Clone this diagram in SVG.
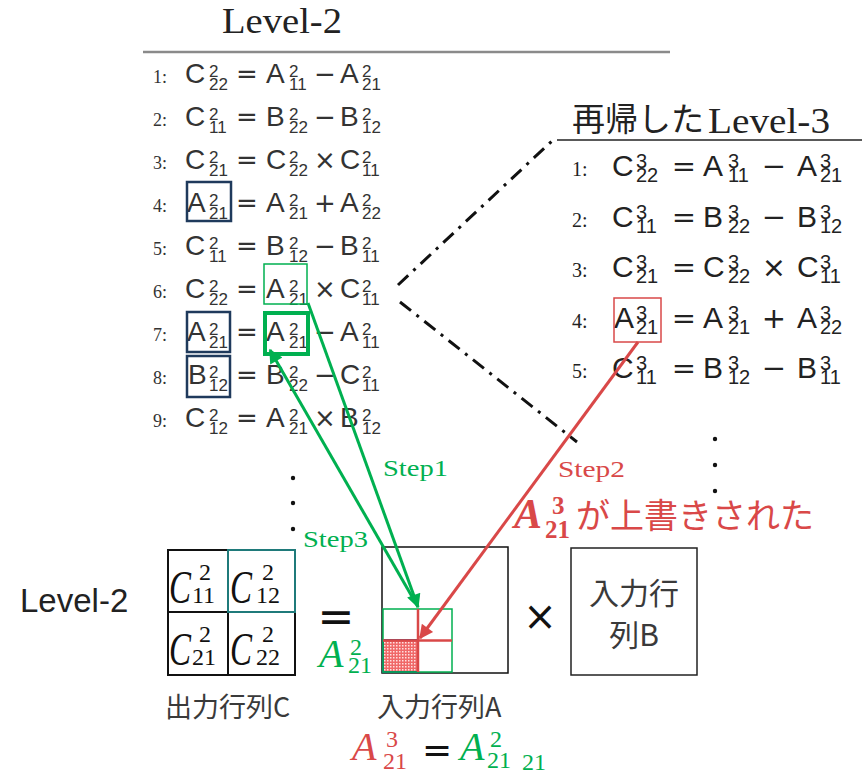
<svg xmlns="http://www.w3.org/2000/svg" width="865" height="775" viewBox="0 0 865 775">
<style>
.ln{font-family:"Liberation Serif",serif;font-size:18px;fill:#333}
.lm{font-family:"Liberation Sans",sans-serif;font-size:28px;fill:#333}
.ls{font-family:"Liberation Sans",sans-serif;font-size:17px;fill:#333}
.lo{font-family:"DejaVu Sans",sans-serif;font-size:26px;fill:#333;text-anchor:middle}
.rn{font-family:"Liberation Serif",serif;font-size:20px;fill:#222}
.rm{font-family:"Liberation Sans",sans-serif;font-size:30px;fill:#222}
.rs{font-family:"Liberation Sans",sans-serif;font-size:20px;fill:#222}
.ro{font-family:"DejaVu Sans",sans-serif;font-size:29px;fill:#222;text-anchor:middle}
.cm{font-family:"Liberation Serif",serif;font-style:italic;font-size:46px;fill:#111}
.cs{font-family:"Liberation Serif",serif;font-size:24px;fill:#111}
.jp{font-family:"Noto Sans CJK JP",sans-serif;fill:#3a3a3a}
.step{font-family:"Liberation Serif",serif;font-size:24px}
.g{fill:#00b050}
.r{fill:#d94848}
.navy{fill:none;stroke:#1f3a5c;stroke-width:2.5}
.cell{fill:none;stroke:#111;stroke-width:2}
</style>
<defs>
<marker id="ag" viewBox="0 0 10 10" refX="9" refY="5" markerWidth="17" markerHeight="14" markerUnits="userSpaceOnUse" orient="auto"><path d="M0,0 L10,5 L0,10 z" fill="#00b050"/></marker>
<marker id="ar" viewBox="0 0 10 10" refX="9" refY="5" markerWidth="17" markerHeight="14" markerUnits="userSpaceOnUse" orient="auto"><path d="M0,0 L10,5 L0,10 z" fill="#d94848"/></marker>
<pattern id="dots" width="3" height="3" patternUnits="userSpaceOnUse"><rect width="3" height="3" fill="#f06868"/><rect x="0" y="0" width="1.5" height="1.5" fill="#ffe0e0"/></pattern>
</defs>

<!-- Left title -->
<g id="title-left">
<text x="222" y="33" font-family="Liberation Serif,serif" font-size="35" fill="#222" textLength="120" lengthAdjust="spacingAndGlyphs">Level-2</text>
<line x1="143" y1="52" x2="670" y2="52" stroke="#8a8a8a" stroke-width="2.5"/>
</g>

<!-- Left equations -->
<g id="eq-left">
<g transform="translate(0,83)"><text class="ln" x="153" y="0">1:</text>
<text class="lm" x="185" y="0">C</text><text class="ls" x="209"><tspan y="-6">2</tspan><tspan x="209" y="7">22</tspan></text>
<text class="lo" x="247" y="0">=</text>
<text class="lm" x="266" y="0">A</text><text class="ls" x="289"><tspan y="-6">2</tspan><tspan x="289" y="7">11</tspan></text>
<text class="lo" x="325" y="0">−</text>
<text class="lm" x="340" y="0">A</text><text class="ls" x="362"><tspan y="-6">2</tspan><tspan x="362" y="7">21</tspan></text></g>

<g transform="translate(0,126)"><text class="ln" x="153" y="0">2:</text>
<text class="lm" x="185" y="0">C</text><text class="ls" x="209"><tspan y="-6">2</tspan><tspan x="209" y="7">11</tspan></text>
<text class="lo" x="247" y="0">=</text>
<text class="lm" x="266" y="0">B</text><text class="ls" x="289"><tspan y="-6">2</tspan><tspan x="289" y="7">22</tspan></text>
<text class="lo" x="325" y="0">−</text>
<text class="lm" x="340" y="0">B</text><text class="ls" x="362"><tspan y="-6">2</tspan><tspan x="362" y="7">12</tspan></text></g>

<g transform="translate(0,169)"><text class="ln" x="153" y="0">3:</text>
<text class="lm" x="185" y="0">C</text><text class="ls" x="209"><tspan y="-6">2</tspan><tspan x="209" y="7">21</tspan></text>
<text class="lo" x="247" y="0">=</text>
<text class="lm" x="266" y="0">C</text><text class="ls" x="289"><tspan y="-6">2</tspan><tspan x="289" y="7">22</tspan></text>
<text class="lo" x="325" y="0">×</text>
<text class="lm" x="340" y="0">C</text><text class="ls" x="362"><tspan y="-6">2</tspan><tspan x="362" y="7">11</tspan></text></g>

<g transform="translate(0,212)"><text class="ln" x="153" y="0">4:</text>
<text class="lm" x="187" y="0">A</text><text class="ls" x="209"><tspan y="-6">2</tspan><tspan x="209" y="7">21</tspan></text>
<text class="lo" x="247" y="0">=</text>
<text class="lm" x="266" y="0">A</text><text class="ls" x="289"><tspan y="-6">2</tspan><tspan x="289" y="7">21</tspan></text>
<text class="lo" x="325" y="0">+</text>
<text class="lm" x="340" y="0">A</text><text class="ls" x="362"><tspan y="-6">2</tspan><tspan x="362" y="7">22</tspan></text></g>

<g transform="translate(0,255)"><text class="ln" x="153" y="0">5:</text>
<text class="lm" x="185" y="0">C</text><text class="ls" x="209"><tspan y="-6">2</tspan><tspan x="209" y="7">11</tspan></text>
<text class="lo" x="247" y="0">=</text>
<text class="lm" x="266" y="0">B</text><text class="ls" x="289"><tspan y="-6">2</tspan><tspan x="289" y="7">12</tspan></text>
<text class="lo" x="325" y="0">−</text>
<text class="lm" x="340" y="0">B</text><text class="ls" x="362"><tspan y="-6">2</tspan><tspan x="362" y="7">11</tspan></text></g>

<g transform="translate(0,298)"><text class="ln" x="153" y="0">6:</text>
<text class="lm" x="185" y="0">C</text><text class="ls" x="209"><tspan y="-6">2</tspan><tspan x="209" y="7">22</tspan></text>
<text class="lo" x="247" y="0">=</text>
<text class="lm" x="266" y="0">A</text><text class="ls" x="289"><tspan y="-6">2</tspan><tspan x="289" y="7">21</tspan></text>
<text class="lo" x="325" y="0">×</text>
<text class="lm" x="340" y="0">C</text><text class="ls" x="362"><tspan y="-6">2</tspan><tspan x="362" y="7">11</tspan></text></g>

<g transform="translate(0,341)"><text class="ln" x="153" y="0">7:</text>
<text class="lm" x="187" y="0">A</text><text class="ls" x="209"><tspan y="-6">2</tspan><tspan x="209" y="7">21</tspan></text>
<text class="lo" x="247" y="0">=</text>
<text class="lm" x="266" y="0">A</text><text class="ls" x="289"><tspan y="-6">2</tspan><tspan x="289" y="7">21</tspan></text>
<text class="lo" x="325" y="0">−</text>
<text class="lm" x="340" y="0">A</text><text class="ls" x="362"><tspan y="-6">2</tspan><tspan x="362" y="7">11</tspan></text></g>

<g transform="translate(0,384)"><text class="ln" x="153" y="0">8:</text>
<text class="lm" x="188" y="0">B</text><text class="ls" x="209"><tspan y="-6">2</tspan><tspan x="209" y="7">12</tspan></text>
<text class="lo" x="247" y="0">=</text>
<text class="lm" x="266" y="0">B</text><text class="ls" x="289"><tspan y="-6">2</tspan><tspan x="289" y="7">22</tspan></text>
<text class="lo" x="325" y="0">−</text>
<text class="lm" x="340" y="0">C</text><text class="ls" x="362"><tspan y="-6">2</tspan><tspan x="362" y="7">11</tspan></text></g>

<g transform="translate(0,427)"><text class="ln" x="153" y="0">9:</text>
<text class="lm" x="185" y="0">C</text><text class="ls" x="209"><tspan y="-6">2</tspan><tspan x="209" y="7">12</tspan></text>
<text class="lo" x="247" y="0">=</text>
<text class="lm" x="266" y="0">A</text><text class="ls" x="289"><tspan y="-6">2</tspan><tspan x="289" y="7">21</tspan></text>
<text class="lo" x="325" y="0">×</text>
<text class="lm" x="340" y="0">B</text><text class="ls" x="362"><tspan y="-6">2</tspan><tspan x="362" y="7">12</tspan></text></g>

<rect class="navy" x="187" y="182" width="44" height="39"/>
<rect class="navy" x="187" y="312" width="43" height="40"/>
<rect class="navy" x="187" y="356" width="43" height="41"/>
<rect x="264" y="264" width="43" height="40" fill="none" stroke="#00b050" stroke-width="1.5"/>
<rect x="265" y="313" width="43" height="41" fill="none" stroke="#00b050" stroke-width="4"/>
</g>

<!-- Right title -->
<g id="title-right">
<text class="jp" x="572" y="131" font-size="33" style="fill:#222">再帰した</text>
<text x="708" y="133" font-family="Liberation Serif,serif" font-size="36" fill="#222" textLength="122" lengthAdjust="spacingAndGlyphs">Level-3</text>
<line x1="557" y1="140" x2="862" y2="140" stroke="#222" stroke-width="1.5"/>
</g>

<!-- Right equations -->
<g id="eq-right">
<g transform="translate(0,176)"><text class="rn" x="572" y="0">1:</text>
<text class="rm" x="612" y="0">C</text><text class="rs" x="636"><tspan y="-8">3</tspan><tspan x="636" y="6">22</tspan></text>
<text class="ro" x="684" y="0">=</text>
<text class="rm" x="703" y="0">A</text><text class="rs" x="728"><tspan y="-8">3</tspan><tspan x="728" y="6">11</tspan></text>
<text class="ro" x="774" y="0">−</text>
<text class="rm" x="797" y="0">A</text><text class="rs" x="820"><tspan y="-8">3</tspan><tspan x="820" y="6">21</tspan></text></g>

<g transform="translate(0,226.5)"><text class="rn" x="572" y="0">2:</text>
<text class="rm" x="612" y="0">C</text><text class="rs" x="636"><tspan y="-8">3</tspan><tspan x="636" y="6">11</tspan></text>
<text class="ro" x="684" y="0">=</text>
<text class="rm" x="703" y="0">B</text><text class="rs" x="728"><tspan y="-8">3</tspan><tspan x="728" y="6">22</tspan></text>
<text class="ro" x="774" y="0">−</text>
<text class="rm" x="797" y="0">B</text><text class="rs" x="820"><tspan y="-8">3</tspan><tspan x="820" y="6">12</tspan></text></g>

<g transform="translate(0,277)"><text class="rn" x="572" y="0">3:</text>
<text class="rm" x="612" y="0">C</text><text class="rs" x="636"><tspan y="-8">3</tspan><tspan x="636" y="6">21</tspan></text>
<text class="ro" x="684" y="0">=</text>
<text class="rm" x="703" y="0">C</text><text class="rs" x="728"><tspan y="-8">3</tspan><tspan x="728" y="6">22</tspan></text>
<text class="ro" x="774" y="0">×</text>
<text class="rm" x="797" y="0">C</text><text class="rs" x="820"><tspan y="-8">3</tspan><tspan x="820" y="6">11</tspan></text></g>

<g transform="translate(0,327.5)"><text class="rn" x="572" y="0">4:</text>
<text class="rm" x="614" y="0">A</text><text class="rs" x="636"><tspan y="-8">3</tspan><tspan x="636" y="6">21</tspan></text>
<text class="ro" x="684" y="0">=</text>
<text class="rm" x="703" y="0">A</text><text class="rs" x="728"><tspan y="-8">3</tspan><tspan x="728" y="6">21</tspan></text>
<text class="ro" x="774" y="0">+</text>
<text class="rm" x="797" y="0">A</text><text class="rs" x="820"><tspan y="-8">3</tspan><tspan x="820" y="6">22</tspan></text></g>

<g transform="translate(0,378)"><text class="rn" x="572" y="0">5:</text>
<text class="rm" x="612" y="0">C</text><text class="rs" x="636"><tspan y="-8">3</tspan><tspan x="636" y="6">11</tspan></text>
<text class="ro" x="684" y="0">=</text>
<text class="rm" x="703" y="0">B</text><text class="rs" x="728"><tspan y="-8">3</tspan><tspan x="728" y="6">12</tspan></text>
<text class="ro" x="774" y="0">−</text>
<text class="rm" x="797" y="0">B</text><text class="rs" x="820"><tspan y="-8">3</tspan><tspan x="820" y="6">11</tspan></text></g>

<rect x="614" y="298" width="47" height="44" fill="none" stroke="#d94848" stroke-width="1.5"/>
</g>

<!-- ellipsis dots -->
<g id="dots-left" fill="#111"><circle cx="293" cy="478" r="2.2"/><circle cx="293" cy="503" r="2.2"/><circle cx="293" cy="529" r="2.2"/></g>
<g id="dots-right" fill="#111"><circle cx="715" cy="439" r="2.2"/><circle cx="715" cy="465" r="2.2"/><circle cx="715" cy="491" r="2.2"/></g>

<!-- Level-2 label -->
<g id="level2-label"><text x="20" y="612" font-family="Liberation Sans,sans-serif" font-size="33" fill="#222">Level-2</text></g>

<!-- Matrix C -->
<g id="matrix-C">
<rect class="cell" x="168" y="550" width="60" height="62"/>
<rect class="cell" x="168" y="612" width="60" height="63"/>
<rect class="cell" x="228" y="612" width="67" height="63"/>
<rect x="228" y="550" width="67" height="62" fill="none" stroke="#1f7a7a" stroke-width="2"/>
<text class="cm" x="169" y="603" textLength="22" lengthAdjust="spacingAndGlyphs">C</text><text class="cs" x="193"><tspan x="199" y="580">2</tspan><tspan x="192" y="603">11</tspan></text>
<text class="cm" x="230" y="603" textLength="22" lengthAdjust="spacingAndGlyphs">C</text><text class="cs" x="256"><tspan x="262" y="580">2</tspan><tspan x="256" y="603">12</tspan></text>
<text class="cm" x="169" y="665" textLength="22" lengthAdjust="spacingAndGlyphs">C</text><text class="cs" x="193"><tspan x="199" y="642">2</tspan><tspan x="192" y="665">21</tspan></text>
<text class="cm" x="230" y="665" textLength="22" lengthAdjust="spacingAndGlyphs">C</text><text class="cs" x="256"><tspan x="262" y="642">2</tspan><tspan x="256" y="665">22</tspan></text>
<text class="jp" x="165" y="717" font-size="27">出力行列C</text>
</g>

<!-- equals and A21 -->
<g id="equals"><text x="336" y="632" font-family="DejaVu Sans,sans-serif" font-size="44" fill="#111" text-anchor="middle">=</text>
<text x="319" y="667" font-family="Liberation Serif,serif" font-style="italic" font-size="40" class="g">A</text>
<text x="348" font-family="Liberation Serif,serif" font-size="24" class="g"><tspan x="350" y="655">2</tspan><tspan x="348" y="673">21</tspan></text>
</g>

<!-- Matrix A -->
<g id="matrix-A">
<rect x="382" y="547" width="126" height="126" fill="none" stroke="#111" stroke-width="1.5"/>
<rect x="383" y="640" width="35" height="32" fill="url(#dots)" stroke="#2e4a80" stroke-width="2"/>
<rect x="383" y="609" width="69" height="63" fill="none" stroke="#00b050" stroke-width="1.5"/>
<line x1="418" y1="609" x2="418" y2="672" stroke="#d94848" stroke-width="2.5"/>
<line x1="383" y1="640.5" x2="452" y2="640.5" stroke="#d94848" stroke-width="2.5"/>
<text class="jp" x="377" y="717" font-size="27">入力行列A</text>
</g>

<g id="times"><text x="540" y="630" font-family="DejaVu Sans,sans-serif" font-size="40" fill="#111" text-anchor="middle">×</text></g>

<!-- Matrix B -->
<g id="matrix-B">
<rect x="571" y="548" width="126" height="127" fill="none" stroke="#222" stroke-width="1.5"/>
<text class="jp" x="634" font-size="30" text-anchor="middle"><tspan x="634" y="604">入力行</tspan><tspan x="634" y="646">列B</tspan></text>
</g>

<!-- Bottom formula -->
<g id="formula">
<text x="352" y="760" font-family="Liberation Serif,serif" font-style="italic" font-size="40" class="r">A</text>
<text x="383" font-family="Liberation Serif,serif" font-size="24" class="r"><tspan x="386" y="747">3</tspan><tspan x="383" y="769">21</tspan></text>
<text x="437" y="762" font-family="DejaVu Sans,sans-serif" font-size="36" fill="#111" text-anchor="middle">=</text>
<text x="460" y="760" font-family="Liberation Serif,serif" font-style="italic" font-size="40" class="g">A</text>
<text x="487" font-family="Liberation Serif,serif" font-size="24" class="g"><tspan x="490" y="747">2</tspan><tspan x="487" y="768">21</tspan><tspan x="522" y="770">21</tspan></text>
</g>

<!-- Overwritten label -->
<g id="overwritten">
<text x="514" y="528" font-family="Liberation Serif,serif" font-style="italic" font-weight="bold" font-size="42" class="r">A</text>
<text x="545" font-family="Liberation Serif,serif" font-weight="bold" font-size="25" class="r"><tspan x="552" y="514">3</tspan><tspan x="545" y="538">21</tspan></text>
<text x="576" y="528" font-family="Noto Sans CJK JP,sans-serif" font-size="34" class="r">が上書きされた</text>
</g>

<!-- Step labels -->
<g id="steps">
<text class="step g" x="383" y="476" textLength="65" lengthAdjust="spacingAndGlyphs">Step1</text>
<text class="step r" x="558" y="477" textLength="67" lengthAdjust="spacingAndGlyphs">Step2</text>
<text class="step g" x="303" y="547" textLength="65" lengthAdjust="spacingAndGlyphs">Step3</text>
</g>

<!-- Connectors -->
<g id="connectors" fill="none">
<path d="M398,285 L553,140" stroke="#111" stroke-width="3" stroke-dasharray="14 7 3 7"/>
<path d="M400,302 L577,442" stroke="#111" stroke-width="3" stroke-dasharray="14 7 3 7"/>
<path d="M308,303 L418,607" stroke="#00b050" stroke-width="3" marker-end="url(#ag)"/>
<path d="M418,607 L270,350" stroke="#00b050" stroke-width="3" marker-end="url(#ag)"/>
<path d="M638,342 L420,638" stroke="#d94848" stroke-width="3" marker-end="url(#ar)"/>
</g>
</svg>
